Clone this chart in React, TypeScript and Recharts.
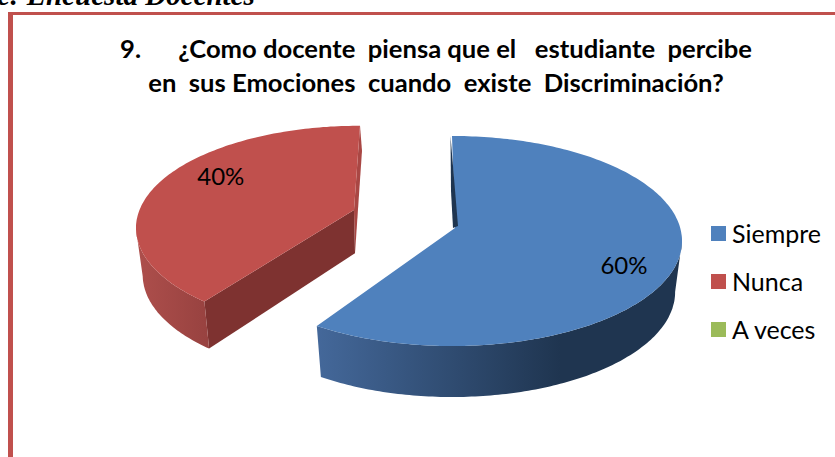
import { PieChart, Pie, Legend } from "recharts";

const categories = ["Siempre", "Nunca", "A veces"];
const percents = [60, 40, 0];
const colors = ["#4F81BD", "#C0504D", "#9BBB59"];

const tableData = categories.map((name, i) => ({
  name,
  value: percents[i],
  fill: colors[i],
}));

const SQUASH = 105 / 230;

// fake 3D look for each slice, recharts only gives the flat angles
const views: Record<string, any> = {
  Siempre: { dx: 0, dy: 0, scale: 1, warp: 0, depth: 51, apexDy: -13, apexDx: 3, wall: "#1F3550", side: "url(#blueSide)", labelR: 0.786, labelDy: -2 },
  Nunca: { dx: -92, dy: -13, scale: 0.974, warp: 8, depth: 47, apexDy: -18, apexDx: -6, wall: "#7E3230", side: "url(#redSide)", labelR: 0.67, labelDy: -27 },
};

const project = (props: any, view: any, angle: number, depth = 0, shrink = 1) => {
  const sweep = 90 - angle;
  const t = ((sweep + (view.warp * (360 - sweep)) / 144) * Math.PI) / 180;
  const rx = props.outerRadius * view.scale;
  return {
    x: props.cx + view.dx + rx * shrink * Math.sin(t),
    y: props.cy + view.dy + depth - rx * SQUASH * Math.cos(t),
  };
};

const toPath = (pts: { x: number; y: number }[]) =>
  pts.map((p, i) => `${i ? "L" : "M"}${p.x.toFixed(1)} ${p.y.toFixed(1)}`).join(" ") + " Z";

const SliceShape = (props: any) => {
  const { startAngle, endAngle, fill, name } = props;
  const view = views[name];
  if (!view || startAngle === endAngle) return <g />;

  const hi = Math.max(startAngle, endAngle);
  const lo = Math.min(startAngle, endAngle);
  const topArc = [];
  for (let a = hi; a >= lo; a -= 1) topArc.push(project(props, view, a));
  topArc.push(project(props, view, lo));

  // outer side: only the part that faces the viewer (below the widest point)
  const front: { x: number; y: number }[] = [];
  const back: { x: number; y: number }[] = [];
  for (let a = hi; a >= lo; a -= 1) {
    const sweep = 90 - a;
    const t = sweep + (view.warp * (360 - sweep)) / 144;
    if (t >= 90 && t <= 270) {
      front.push(project(props, view, a));
      back.unshift(project(props, view, a, view.depth, 0.97));
    }
  }

  const apex = {
    x: props.cx + view.dx + view.apexDx,
    y: props.cy + view.dy + view.apexDy,
  };
  const first = topArc[0];
  const last = topArc[topArc.length - 1];

  if (name === "Nunca") {
    const apexLow = { x: apex.x + 1, y: apex.y + view.depth * 0.92 };
    return (
      <g>
        <path d={toPath([last, { x: last.x + 2, y: last.y + 25 }, apexLow, apex])} fill="#A94744" />
        <path d={toPath([apex, first, project(props, view, hi, view.depth, 0.97), apexLow])} fill={view.wall} />
        <path d={toPath([...front, ...back])} fill={view.side} />
        <path d={toPath([apex, ...topArc])} fill={fill} />
      </g>
    );
  }

  return (
    <g>
      <path d={toPath([...front, ...back])} fill={view.side} />
      <path d={toPath([apex, ...topArc])} fill={fill} />
      <path
        d={toPath([
          { x: first.x - 1.5, y: first.y },
          { x: first.x - 1, y: first.y + 55 },
          { x: apex.x - 2, y: apex.y },
          { x: apex.x + 3, y: apex.y - 2 },
        ])}
        fill={view.wall}
      />
    </g>
  );
};

const renderLabel = (props: any) => {
  const view = views[props.name];
  if (!view || !props.value) return null;
  const mid = (props.startAngle + props.endAngle) / 2;
  const base = project(props, { ...view, dx: 0, dy: 0, scale: 1 }, mid);
  const x = props.cx + view.dx + (base.x - props.cx) * view.scale * view.labelR;
  const y = props.cy + view.dy + (base.y - props.cy) * view.scale * view.labelR + view.labelDy;
  return (
    <text x={x} y={y} textAnchor="middle" dominantBaseline="central" fontFamily="Lato" fontSize={24} fill="#000">
      {`${props.value}%`}
    </text>
  );
};

const renderLegend = ({ payload }: any) => {
  const items = [...(payload || [])].sort(
    (a: any, b: any) => categories.indexOf(a.value) - categories.indexOf(b.value)
  );
  return (
    <div style={{ fontFamily: "Lato", fontSize: 25, color: "#000" }}>
      {items.map((item: any) => (
        <div key={item.value} style={{ display: "flex", alignItems: "center", height: 48 }}>
          <span style={{ width: 15, height: 15, background: item.color, marginRight: 6 }} />
          {item.value}
        </div>
      ))}
    </div>
  );
};

const App = () => {
  return (
    <div style={{ position: "absolute", left: 0, top: 0, width: 835, height: 457, overflow: "hidden", background: "#fff" }}>
      <div style={{ position: "absolute", left: -3, top: -21, fontFamily: "Liberation Serif", fontWeight: "bold", fontStyle: "italic", fontSize: 29, whiteSpace: "pre" }}>
        e: Encuesta Docentes
      </div>
      <div style={{ position: "absolute", left: 8, top: 12, width: 840, height: 460, border: "4px solid #C0504D", borderLeftWidth: 5, borderTopWidth: 3, boxSizing: "border-box" }} />
      <div style={{ position: "absolute", left: 0, top: 31, width: 872, textAlign: "center", fontFamily: "Lato", fontWeight: "bold", fontSize: 25.6, lineHeight: "34px", whiteSpace: "pre", color: "#000" }}>
        {"9.      ¿Como docente  piensa que el   estudiante  percibe\n"}
        {"en  sus Emociones  cuando  existe  Discriminación?"}
      </div>
      <div style={{ position: "absolute", left: 0, top: 0 }}>
        <PieChart width={835} height={457} margin={{ top: 0, right: 0, bottom: 0, left: 0 }}>
          <defs>
            <linearGradient id="blueSide" gradientUnits="userSpaceOnUse" x1="317" y1="0" x2="560" y2="0">
              <stop offset="0" stopColor="#44689A" />
              <stop offset="1" stopColor="#1F3550" />
            </linearGradient>
            <linearGradient id="redSide" gradientUnits="userSpaceOnUse" x1="135" y1="0" x2="207" y2="0">
              <stop offset="0" stopColor="#AE4F4C" />
              <stop offset="1" stopColor="#984240" />
            </linearGradient>
          </defs>
          <Pie
            data={tableData}
            dataKey="value"
            nameKey="name"
            cx={452}
            cy={241}
            outerRadius={230}
            startAngle={90}
            endAngle={-270}
            paddingAngle={0}
            stroke="none"
            shape={SliceShape}
            label={renderLabel}
            labelLine={false}
            isAnimationActive={false}
          />
          <Legend
            layout="vertical"
            align="right"
            verticalAlign="top"
            content={renderLegend}
            wrapperStyle={{ left: 711, top: 209, width: 120 }}
          />
        </PieChart>
      </div>
    </div>
  );
};

export default App;
